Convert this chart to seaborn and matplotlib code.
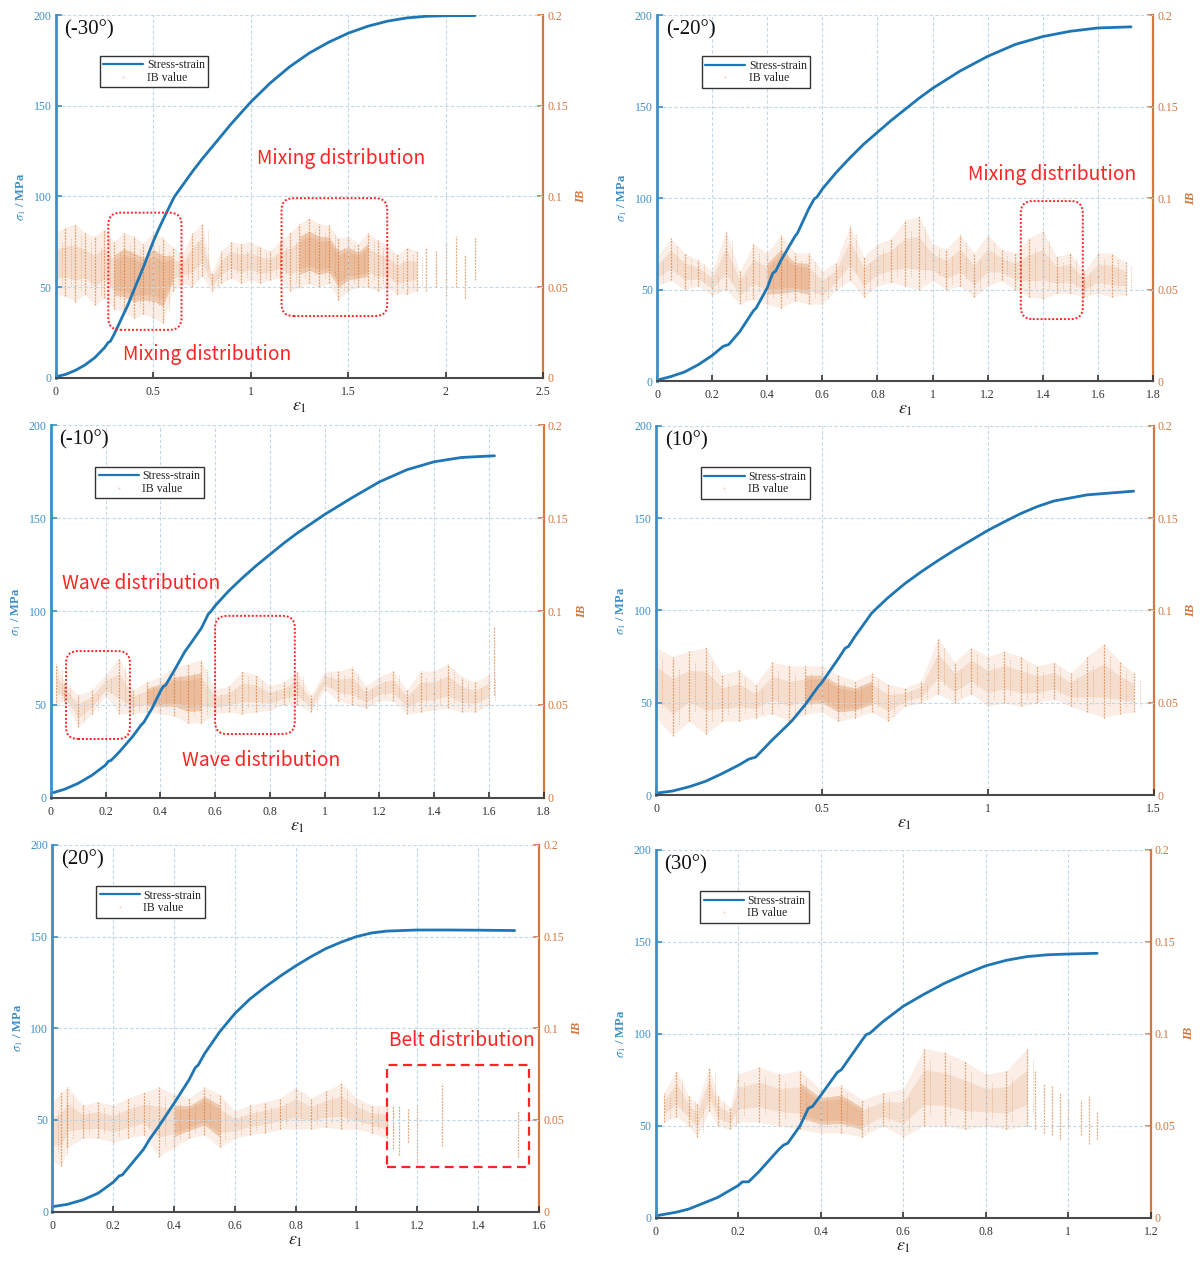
import numpy as np
import matplotlib
matplotlib.use('Agg')
import matplotlib.pyplot as plt
import seaborn as sns
from matplotlib.patches import FancyBboxPatch, Rectangle
from matplotlib.lines import Line2D
from matplotlib.ticker import FuncFormatter

sns.set_theme(style='ticks')
plt.rcParams['font.family'] = ['Liberation Serif', 'DejaVu Serif']
plt.rcParams['mathtext.fontset'] = 'stix'

# %% stress-strain curves (strain, MPa)
eps_m30 = [0, 0.05, 0.1, 0.15, 0.2, 0.25, 0.27, 0.28, 0.3, 0.35, 0.37, 0.4, 0.45, 0.5, 0.52, 0.55,
           0.6, 0.61, 0.65, 0.7, 0.75, 0.8, 0.85, 0.9, 0.95, 1.0, 1.1, 1.2, 1.3, 1.4, 1.5, 1.6,
           1.7, 1.8, 1.9, 2.0, 2.15]
sig_m30 = [0.5, 1.8, 4, 7, 11, 16.5, 19.5, 20, 24, 35.5, 40, 48, 61, 75, 80, 87,
           98, 100, 106, 113.5, 120.5, 127, 133.5, 140, 146, 152, 162.5, 171.5, 179, 185, 190, 193.8,
           196.6, 198.4, 199.3, 199.6, 199.7]

eps_m20 = [0, 0.05, 0.1, 0.15, 0.2, 0.24, 0.26, 0.3, 0.35, 0.36, 0.4, 0.42, 0.43, 0.45, 0.5, 0.51,
           0.55, 0.57, 0.58, 0.6, 0.65, 0.7, 0.75, 0.8, 0.85, 0.9, 0.95, 1.0, 1.1, 1.2, 1.3, 1.4,
           1.5, 1.6, 1.72]
sig_m20 = [0.5, 2.5, 5, 9, 14, 19, 20, 27, 38.5, 40, 51, 59, 60, 66, 79, 81,
           94, 99.5, 100.5, 105, 114, 122, 129.5, 136, 142.5, 148.5, 154.5, 160, 169.5, 177.5, 184, 188.3,
           191.2, 193, 193.6]

eps_m10 = [0, 0.05, 0.1, 0.15, 0.2, 0.21, 0.22, 0.25, 0.3, 0.33, 0.34, 0.37, 0.4, 0.41, 0.42, 0.45,
           0.49, 0.5, 0.55, 0.575, 0.585, 0.6, 0.65, 0.7, 0.75, 0.8, 0.85, 0.9, 0.95, 1.0, 1.1, 1.2,
           1.3, 1.4, 1.5, 1.62]
sig_m10 = [2.3, 4.5, 7.7, 12, 17.5, 19.5, 20, 24.5, 33, 39, 40.5, 48, 57, 59.5, 60.5, 68,
           78.5, 80.5, 91, 98.5, 100, 103, 111, 118, 124.5, 130.5, 136.5, 142, 147, 152, 161, 169.5,
           176, 180.3, 182.6, 183.5]

eps_p10 = [0, 0.05, 0.1, 0.15, 0.2, 0.25, 0.28, 0.3, 0.35, 0.4, 0.41, 0.45, 0.49, 0.5, 0.55, 0.57,
           0.58, 0.6, 0.65, 0.66, 0.7, 0.75, 0.8, 0.85, 0.9, 0.95, 1.0, 1.05, 1.1, 1.15, 1.2, 1.3,
           1.44]
sig_p10 = [1, 2.2, 4.5, 7.5, 11.7, 16.3, 19.5, 20.5, 29.8, 38.5, 40.3, 49, 59, 61, 74, 79.5,
           80.5, 86, 98.5, 100.3, 107, 114.5, 121, 127, 132.7, 138, 143.3, 148, 152.5, 156.3, 159.3, 162.6,
           164.6]

eps_p20 = [0, 0.05, 0.1, 0.15, 0.2, 0.22, 0.23, 0.25, 0.3, 0.32, 0.35, 0.4, 0.45, 0.47, 0.48, 0.5,
           0.55, 0.56, 0.6, 0.65, 0.7, 0.75, 0.8, 0.85, 0.9, 0.95, 1.0, 1.05, 1.1, 1.2, 1.3, 1.4,
           1.52]
sig_p20 = [2.7, 4, 6.4, 10, 16, 19.5, 20, 24, 34, 39.5, 46.5, 59, 72, 78.5, 80, 86,
           98, 100, 108, 116, 122.5, 128.5, 134, 139, 143.5, 147, 150, 152, 153, 153.6, 153.6, 153.5,
           153.3]

eps_p30 = [0, 0.05, 0.08, 0.1, 0.15, 0.2, 0.21, 0.225, 0.25, 0.3, 0.31, 0.32, 0.35, 0.37, 0.38, 0.4,
           0.44, 0.45, 0.5, 0.51, 0.52, 0.55, 0.6, 0.65, 0.7, 0.75, 0.8, 0.85, 0.9, 0.95, 1.0, 1.07]
sig_p30 = [1, 3, 4.7, 6.5, 11, 17.5, 19.5, 19.5, 25, 37.5, 39.5, 40.5, 50, 59.5, 60.5, 66.5,
           79, 80.5, 96.5, 99.5, 100.5, 106.5, 115, 121.5, 127.5, 132.5, 137, 140, 142, 143, 143.4, 143.8]

# %% IB value envelopes (strain, lowest IB, highest IB)
ib_eps_m30 = [0, 0.05, 0.1, 0.15, 0.2, 0.25, 0.3, 0.35, 0.4, 0.45, 0.5, 0.55, 0.6, 0.65, 0.7,
              0.75, 0.8, 0.85, 0.9, 0.95, 1.0, 1.05, 1.1, 1.15, 1.2, 1.25, 1.3, 1.35, 1.4,
              1.45, 1.5, 1.55, 1.6, 1.65, 1.7, 1.75, 1.8, 1.85, 1.9, 1.95, 2.0, 2.05, 2.1, 2.15]
ib_lo_m30 = [0.046, 0.045, 0.042, 0.046, 0.040, 0.044, 0.038, 0.036, 0.033, 0.035, 0.033, 0.030,
             0.048, 0.052, 0.050, 0.056, 0.048, 0.052, 0.055, 0.052, 0.054, 0.052, 0.054, 0.055,
             0.048, 0.050, 0.052, 0.050, 0.052, 0.043, 0.048, 0.050, 0.050, 0.048, 0.050, 0.046,
             0.046, 0.048, 0.048, 0.050, 0.045, 0.050, 0.044, 0.054]
ib_hi_m30 = [0.080, 0.083, 0.085, 0.080, 0.078, 0.082, 0.075, 0.080, 0.078, 0.074, 0.080, 0.077,
             0.072, 0.068, 0.080, 0.085, 0.058, 0.070, 0.075, 0.074, 0.075, 0.072, 0.070, 0.075,
             0.080, 0.085, 0.088, 0.085, 0.084, 0.077, 0.078, 0.074, 0.080, 0.076, 0.073, 0.068,
             0.072, 0.070, 0.072, 0.070, 0.075, 0.078, 0.068, 0.077]

ib_eps_m20 = [0, 0.05, 0.1, 0.15, 0.2, 0.25, 0.3, 0.35, 0.4, 0.45, 0.5, 0.55, 0.6, 0.65, 0.7,
              0.75, 0.8, 0.85, 0.9, 0.95, 1.0, 1.05, 1.1, 1.15, 1.2, 1.25, 1.3, 1.35, 1.4,
              1.45, 1.5, 1.55, 1.6, 1.65, 1.7]
ib_lo_m20 = [0.052, 0.055, 0.050, 0.052, 0.047, 0.050, 0.042, 0.045, 0.042, 0.040, 0.044, 0.042,
             0.042, 0.050, 0.055, 0.046, 0.052, 0.054, 0.052, 0.050, 0.055, 0.050, 0.052, 0.046,
             0.052, 0.055, 0.050, 0.046, 0.045, 0.048, 0.048, 0.046, 0.048, 0.046, 0.047]
ib_hi_m20 = [0.068, 0.078, 0.070, 0.066, 0.060, 0.082, 0.060, 0.075, 0.070, 0.080, 0.070, 0.070,
             0.060, 0.065, 0.085, 0.068, 0.075, 0.078, 0.088, 0.090, 0.075, 0.072, 0.080, 0.070,
             0.080, 0.072, 0.070, 0.078, 0.082, 0.068, 0.070, 0.060, 0.070, 0.070, 0.065]

ib_eps_m10 = [0.02, 0.05, 0.1, 0.15, 0.2, 0.25, 0.3, 0.35, 0.4, 0.45, 0.5, 0.55, 0.6, 0.65, 0.7,
              0.75, 0.8, 0.85, 0.9, 0.95, 1.0, 1.05, 1.1, 1.15, 1.2, 1.25, 1.3, 1.35, 1.4,
              1.45, 1.5, 1.55, 1.6, 1.62]
ib_lo_m10 = [0.050, 0.052, 0.038, 0.045, 0.055, 0.045, 0.045, 0.046, 0.045, 0.044, 0.040, 0.040,
             0.045, 0.046, 0.045, 0.046, 0.047, 0.050, 0.050, 0.046, 0.058, 0.052, 0.050, 0.048,
             0.052, 0.052, 0.045, 0.046, 0.047, 0.048, 0.046, 0.046, 0.050, 0.055]
ib_hi_m10 = [0.072, 0.062, 0.055, 0.058, 0.066, 0.075, 0.058, 0.062, 0.065, 0.070, 0.072, 0.074,
             0.058, 0.060, 0.068, 0.066, 0.060, 0.062, 0.068, 0.055, 0.068, 0.068, 0.070, 0.060,
             0.065, 0.068, 0.058, 0.068, 0.068, 0.072, 0.065, 0.062, 0.066, 0.092]

ib_eps_p10 = [0, 0.05, 0.1, 0.15, 0.2, 0.25, 0.3, 0.35, 0.4, 0.45, 0.5, 0.55, 0.6, 0.65, 0.7,
              0.75, 0.8, 0.85, 0.9, 0.95, 1.0, 1.05, 1.1, 1.15, 1.2, 1.25, 1.3, 1.35, 1.4, 1.44]
ib_lo_p10 = [0.042, 0.032, 0.040, 0.033, 0.040, 0.040, 0.042, 0.044, 0.040, 0.044, 0.045, 0.040,
             0.042, 0.045, 0.040, 0.048, 0.050, 0.055, 0.050, 0.055, 0.048, 0.050, 0.048, 0.050,
             0.052, 0.048, 0.045, 0.042, 0.044, 0.045]
ib_hi_p10 = [0.080, 0.075, 0.078, 0.080, 0.065, 0.068, 0.060, 0.072, 0.070, 0.070, 0.070, 0.065,
             0.062, 0.066, 0.060, 0.058, 0.062, 0.085, 0.072, 0.080, 0.075, 0.078, 0.075, 0.070,
             0.072, 0.066, 0.075, 0.082, 0.072, 0.066]

ib_eps_p20 = [0, 0.03, 0.05, 0.1, 0.15, 0.2, 0.25, 0.3, 0.35, 0.4, 0.45, 0.5, 0.55, 0.6, 0.65,
              0.7, 0.75, 0.8, 0.85, 0.9, 0.95, 1.0, 1.05, 1.1,
              1.12, 1.14, 1.17, 1.2, 1.28, 1.53]
ib_lo_p20 = [0.028, 0.025, 0.035, 0.040, 0.040, 0.038, 0.040, 0.042, 0.030, 0.035, 0.040, 0.042,
             0.035, 0.040, 0.042, 0.043, 0.045, 0.045, 0.045, 0.046, 0.045, 0.045, 0.043, 0.040,
             0.034, 0.031, 0.038, 0.025, 0.036, 0.030]
ib_hi_p20 = [0.060, 0.065, 0.068, 0.058, 0.060, 0.058, 0.062, 0.065, 0.068, 0.064, 0.062, 0.068,
             0.064, 0.055, 0.058, 0.060, 0.062, 0.068, 0.062, 0.066, 0.070, 0.062, 0.058, 0.058,
             0.058, 0.058, 0.056, 0.058, 0.070, 0.055]

ib_eps_p30 = [0.02, 0.05, 0.08, 0.1, 0.13, 0.15, 0.18, 0.2, 0.25, 0.3, 0.35, 0.4, 0.45, 0.5,
              0.55, 0.6, 0.65, 0.7, 0.75, 0.8, 0.85, 0.9,
              0.92, 0.94, 0.96, 0.98, 1.0, 1.03, 1.05, 1.07]
ib_lo_p30 = [0.052, 0.055, 0.050, 0.044, 0.058, 0.050, 0.048, 0.052, 0.052, 0.050, 0.048, 0.046,
             0.046, 0.044, 0.050, 0.044, 0.050, 0.050, 0.048, 0.050, 0.048, 0.050,
             0.048, 0.046, 0.045, 0.043, 0.050, 0.045, 0.040, 0.043]
ib_hi_p30 = [0.068, 0.080, 0.066, 0.062, 0.082, 0.066, 0.060, 0.078, 0.082, 0.078, 0.080, 0.070,
             0.072, 0.064, 0.068, 0.070, 0.092, 0.090, 0.085, 0.078, 0.080, 0.092,
             0.080, 0.073, 0.072, 0.068, 0.065, 0.064, 0.066, 0.058]

# strain ranges where the IB points are densest
dense_m30 = [(0.3, 0.62), (1.22, 1.6)]
dense_m20 = [(0.38, 0.58)]
dense_m10 = [(0.35, 0.58)]
dense_p10 = [(0.45, 0.66)]
dense_p20 = [(0.38, 0.56)]
dense_p30 = [(0.33, 0.52)]

panel_labels = ['(-30°)', '(-20°)', '(-10°)', '(10°)', '(20°)', '(30°)']
xmax_list = [2.5, 1.8, 1.8, 1.5, 1.6, 1.2]
xstep_list = [0.5, 0.2, 0.2, 0.5, 0.2, 0.2]
dense_end_list = [1.88, 1.7, 1.6, 1.44, 1.1, 0.91]

BLUE = '#1f76b4'
BLUE_AX = '#3d8fc6'
ORANGE_AX = '#d3773f'
IB_COL = '#d2691e'
RED = '#ff2323'
GRID = '#c3d8e6'

W, H = 1202, 1262
fig = plt.figure(figsize=(W / 100, H / 100), dpi=100)

rects = [
    [0.0463, 0.7007, 0.4057, 0.2874],
    [0.5466, 0.6980, 0.4127, 0.2900],
    [0.0422, 0.3679, 0.4102, 0.2953],
    [0.5458, 0.3700, 0.4139, 0.2926],
    [0.0435, 0.0399, 0.4049, 0.2906],
    [0.5455, 0.0351, 0.4119, 0.2914],
]

curves = [(eps_m30, sig_m30), (eps_m20, sig_m20), (eps_m10, sig_m10),
          (eps_p10, sig_p10), (eps_p20, sig_p20), (eps_p30, sig_p30)]
ibs = [(ib_eps_m30, ib_lo_m30, ib_hi_m30), (ib_eps_m20, ib_lo_m20, ib_hi_m20),
       (ib_eps_m10, ib_lo_m10, ib_hi_m10), (ib_eps_p10, ib_lo_p10, ib_hi_p10),
       (ib_eps_p20, ib_lo_p20, ib_hi_p20), (ib_eps_p30, ib_lo_p30, ib_hi_p30)]
denses = [dense_m30, dense_m20, dense_m10, dense_p10, dense_p20, dense_p30]

fmt = FuncFormatter(lambda v, p: f'{v:g}')
axes = []

for i in range(6):
    ax = fig.add_axes(rects[i])
    ax2 = ax.twinx()
    ax.set_zorder(ax2.get_zorder() + 1)
    ax.patch.set_visible(False)

    # IB cloud on the right axis: faint envelope + dotted streak per sample
    x_ib = np.array(ibs[i][0])
    lo = np.array(ibs[i][1])
    hi = np.array(ibs[i][2])
    mid = (lo + hi) / 2
    half = (hi - lo) / 2
    m = x_ib <= dense_end_list[i]
    ax2.fill_between(x_ib[m], lo[m], hi[m], color=IB_COL, alpha=0.11, lw=0)
    ax2.fill_between(x_ib[m], mid[m] - 0.45 * half[m], mid[m] + 0.45 * half[m],
                     color=IB_COL, alpha=0.12, lw=0)
    for a, b in denses[i]:
        d = m & (x_ib >= a) & (x_ib <= b)
        ax2.fill_between(x_ib[d], mid[d] - 0.6 * half[d], mid[d] + 0.6 * half[d],
                         color=IB_COL, alpha=0.28, lw=0)
    ax2.vlines(x_ib, lo, hi, color=IB_COL, lw=0.9, alpha=0.6, linestyles=[(0, (1.5, 1))])
    ax2.vlines(x_ib[m] + 0.012 * xmax_list[i], mid[m] - 0.7 * half[m], mid[m] + 0.7 * half[m],
               color=IB_COL, lw=0.7, alpha=0.45, linestyles=[(0, (1, 1.5))])

    # stress-strain
    sns.lineplot(x=curves[i][0], y=curves[i][1], ax=ax, color=BLUE, lw=2,
                 sort=False, estimator=None)

    xmax = xmax_list[i]
    ax.set_xlim(0, xmax)
    ax.set_ylim(0, 200)
    ax2.set_ylim(0, 0.2)
    ax.set_xticks(np.round(np.arange(0, xmax + 1e-9, xstep_list[i]), 2))
    ax.set_yticks([0, 50, 100, 150, 200])
    ax2.set_yticks([0, 0.05, 0.1, 0.15, 0.2])
    ax.xaxis.set_major_formatter(fmt)
    ax2.yaxis.set_major_formatter(fmt)

    ax.grid(True, color=GRID, lw=0.8, ls=(0, (3, 2)))
    ax.set_axisbelow(True)

    for s in ['top', 'right']:
        ax.spines[s].set_visible(False)
    for s in ['top', 'left', 'bottom']:
        ax2.spines[s].set_visible(False)
    ax.spines['left'].set_color(BLUE_AX)
    ax.spines['left'].set_linewidth(2)
    ax.spines['bottom'].set_color('#4a4a4a')
    ax.spines['bottom'].set_linewidth(1.5)
    ax2.spines['right'].set_color(ORANGE_AX)
    ax2.spines['right'].set_linewidth(1.6)

    ax.tick_params(axis='y', colors=BLUE_AX, direction='in', length=4, width=1.2,
                   labelsize=8.5, pad=3)
    ax.tick_params(axis='x', colors='#333333', direction='in', length=4, width=1.2,
                   labelsize=8.5, pad=6)
    ax2.tick_params(axis='y', colors=ORANGE_AX, direction='in', length=4, width=1.2,
                    labelsize=8.5, pad=3)

    ax.set_xlabel(r'$\varepsilon_1$', fontsize=13, color='#222222', labelpad=0)
    ax.set_ylabel(r'$\sigma_1$ / MPa', fontsize=9, color=BLUE_AX, fontweight='bold',
                  labelpad=4)
    ax2.set_ylabel('IB', fontsize=9, color=ORANGE_AX, fontweight='bold', style='italic',
                   labelpad=5)

    ax.text(0.018, 0.96, panel_labels[i], transform=ax.transAxes, fontsize=15,
            va='center', ha='left', color='#111111')

    handles = [Line2D([], [], color=BLUE, lw=1.6),
               Line2D([], [], color=IB_COL, marker='.', ms=1, ls='None', alpha=0.3)]
    leg = ax.legend(handles, ['Stress-strain', 'IB value'], loc='upper left',
                    bbox_to_anchor=(0.09, 0.888), frameon=True, fancybox=False,
                    edgecolor='#333333', framealpha=1, fontsize=8.5, handlelength=3.4,
                    borderpad=0.3, labelspacing=0.05, handletextpad=0.3,
                    borderaxespad=0)
    leg.get_frame().set_linewidth(1.0)
    axes.append(ax)


def rounded_box(ax, i, x0, y0, x1, y1, r_px=12):
    px_x = rects[i][2] * W / xmax_list[i]
    px_y = rects[i][3] * H / 200
    box = FancyBboxPatch((x0, y0), x1 - x0, y1 - y0,
                         boxstyle=f'round,pad=0,rounding_size={r_px / px_x}',
                         mutation_aspect=px_x / px_y, fc='none', ec=RED,
                         lw=1.4, ls=(0, (1, 1)), zorder=5)
    ax.add_patch(box)


def note(ax, x, y, s):
    ax.text(x, y, s, color=RED, fontsize=13.8, family=['Noto Sans CJK SC', 'DejaVu Sans'],
            va='center', ha='left', zorder=6)


# (-30°)
rounded_box(axes[0], 0, 0.27, 26.4, 0.645, 91)
rounded_box(axes[0], 0, 1.158, 34, 1.70, 99)
note(axes[0], 1.03, 121, 'Mixing distribution')
note(axes[0], 0.343, 13, 'Mixing distribution')
# (-20°)
rounded_box(axes[1], 1, 1.32, 33.9, 1.545, 98.4)
note(axes[1], 1.127, 113, 'Mixing distribution')
# (-10°)
rounded_box(axes[2], 2, 0.056, 31.5, 0.289, 78.7)
rounded_box(axes[2], 2, 0.60, 34.2, 0.891, 97.6)
note(axes[2], 0.04, 115, 'Wave distribution')
note(axes[2], 0.478, 20.2, 'Wave distribution')
# (20°)
axes[4].add_patch(Rectangle((1.102, 24.4), 1.566 - 1.102, 80 - 24.4, fc='none', ec=RED,
                            lw=1.6, ls=(0, (4, 2.5)), zorder=5))
note(axes[4], 1.106, 93.3, 'Belt distribution')

fig.savefig('out.png', dpi=100)
